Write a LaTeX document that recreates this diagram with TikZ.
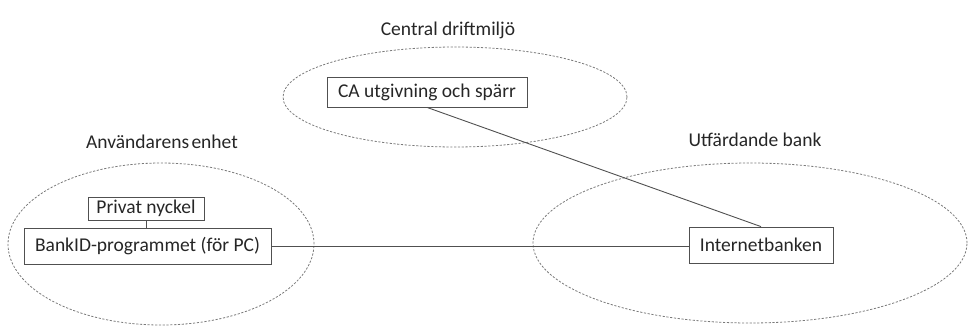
\documentclass[tikz,border=0pt]{standalone}
\usepackage{fontspec}
\setmainfont{Carlito}
\usetikzlibrary{shapes.geometric}
\definecolor{txt}{HTML}{262626}
\definecolor{edge}{HTML}{505050}
\definecolor{dash}{HTML}{7a7a7a}
\begin{document}
\begin{tikzpicture}[x=1pt,y=-1pt,
  every node/.style={font=\fontsize{19.5}{23}\selectfont, text=txt},
  region/.style={draw=dash, dash pattern=on 2.2pt off 1.6pt, line width=0.8pt, ellipse, inner sep=0pt},
  box/.style={draw=edge, line width=0.8pt, inner sep=0pt, rectangle},
  link/.style={draw=edge, line width=0.9pt},
  title/.style={inner sep=0pt}]
\useasboundingbox (0,0) rectangle (970,327);
% regions
\node[region, minimum width=344pt, minimum height=100pt] (ce) at (455,97) {};
\node[region, minimum width=306pt, minimum height=162pt] (ue) at (161,244) {};
\node[region, minimum width=434pt, minimum height=160pt] (be) at (750,243) {};
% titles
\node[title] (t1) at (448,30) {Central driftmiljö};
\node[title] (t2) at (162,142) {Användarens\hspace{0.12em}enhet};
\node[title] (t3) at (755,140) {Utfärdande bank};
% boxes
\node[box, minimum width=200pt, minimum height=30pt] (ca) at (427,92) {CA utgivning och spärr};
\node[box, minimum width=116pt, minimum height=23pt] (pn) at (146,208.5) {Privat nyckel};
\node[box, minimum width=247pt, minimum height=36pt] (bid) at (147.5,246) {BankID-programmet (för PC)};
\node[box, minimum width=144pt, minimum height=36pt] (ib) at (761,245) {Internetbanken};
% links
\draw[link] (pn.south) -- (pn.south |- bid.north);
\draw[link] (bid.east) -- (bid.east -| ib.west);
\draw[link] (ca.south) -- (ib.north);
\end{tikzpicture}
\end{document}
